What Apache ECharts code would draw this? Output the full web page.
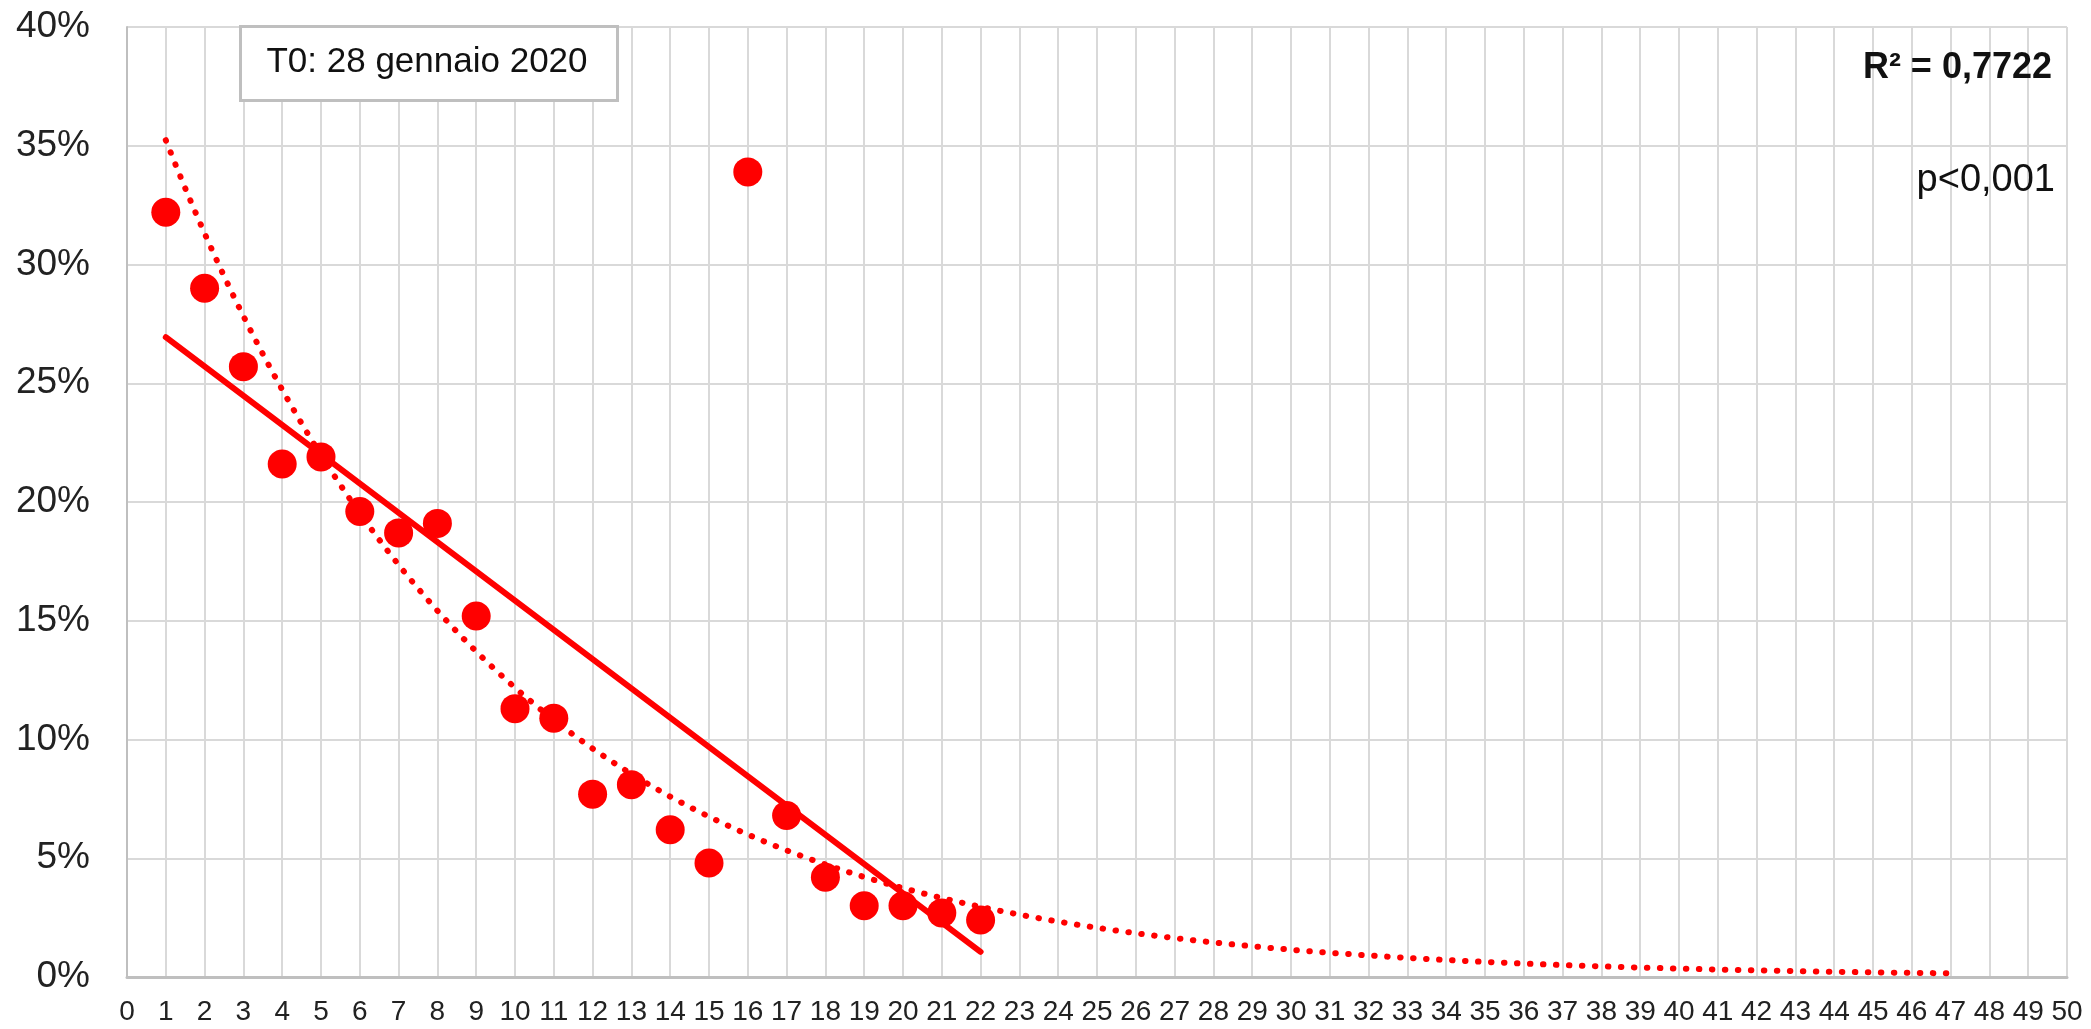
<!DOCTYPE html>
<html>
<head>
<meta charset="utf-8">
<script src="https://cdn.jsdelivr.net/npm/echarts@6/dist/echarts.min.js"></script>
<style>
html,body{margin:0;padding:0;background:#fff;}
#chart{width:2091px;height:1029px;}
</style>
</head>
<body>
<div id="chart"></div>
<script>
// Days since T0 (x) and observed share (%)
const days = [1,2,3,4,5,6,7,8,9,10,11,12,13,14,15,16,17,18,19,20,21,22];
const share = [32.2,29.0,25.7,21.6,21.9,19.6,18.7,19.1,15.2,11.3,10.9,7.7,8.1,6.2,4.8,33.9,6.8,4.2,3.0,3.0,2.7,2.4];
const forecastEnd = 47;          // exponential trend forecast extends to day 47
const annotationBox = "T0: 28 gennaio 2020";
const r2Label = "R\u00B2 = 0,7722";
const pLabel = "p<0,001";

// Least-squares regression (as the spreadsheet trendlines)
function linFit(xs, ys){
  const n = xs.length;
  const mx = xs.reduce((a,b)=>a+b,0)/n, my = ys.reduce((a,b)=>a+b,0)/n;
  let sxy=0, sxx=0;
  for(let i=0;i<n;i++){ sxy+=(xs[i]-mx)*(ys[i]-my); sxx+=(xs[i]-mx)*(xs[i]-mx); }
  const b = sxy/sxx; return {a: my - b*mx, b};
}
const lin = linFit(days, share);
const linTrend = [[days[0], lin.a + lin.b*days[0]], [days[days.length-1], lin.a + lin.b*days[days.length-1]]];
const ex = linFit(days, share.map(v=>Math.log(v)));
const expTrend = [];
for(let x=days[0]; x<=forecastEnd+1e-9; x+=0.25){ expTrend.push([x, Math.exp(ex.a + ex.b*x)]); }

const RED = '#ff0000';
const FONT = '"Liberation Sans", Arial, sans-serif';
const chart = echarts.init(document.getElementById('chart'));
chart.setOption({
  animation:false,
  backgroundColor:'#fff',
  grid:{left:127, right:24, top:27, bottom:52, containLabel:false},
  xAxis:{type:'value', min:0, max:50, interval:1,
    axisLine:{show:true, lineStyle:{color:'#bfbfbf', width:3}},
    axisTick:{show:false},
    axisLabel:{color:'#222', fontSize:28, fontFamily:FONT, margin:21},
    splitLine:{show:true, lineStyle:{color:'#d9d9d9', width:2}}},
  yAxis:{type:'value', min:0, max:40, interval:5,
    axisLine:{show:true, lineStyle:{color:'#bfbfbf', width:2}},
    axisTick:{show:false},
    axisLabel:{color:'#222', fontSize:37, fontFamily:FONT, margin:37, formatter:'{value}%'},
    splitLine:{show:true, lineStyle:{color:'#d9d9d9', width:2}}},
  series:[
    {type:'scatter', data: days.map((d,i)=>[d, share[i]]), symbol:'circle', symbolSize:29,
      itemStyle:{color:RED, opacity:1}, z:3},
    {type:'line', data: linTrend, showSymbol:false, symbol:'none',
      lineStyle:{color:RED, width:6, cap:'round'}, z:4},
    {type:'line', data: expTrend, showSymbol:false, symbol:'none', smooth:false,
      lineStyle:{color:RED, width:6, type:[0.5,12.5], cap:'round'}, z:4}
  ],
  graphic:[
    {type:'rect', left:239, top:25, shape:{width:377, height:74},
      style:{fill:'#fff', stroke:'#bfbfbf', lineWidth:3}, z:10},
    {type:'text', x:427, y:62, style:{text:annotationBox, font:'35px '+FONT, fill:'#111', textAlign:'center', textVerticalAlign:'middle'}, z:11},
    {type:'text', x:2052, y:68, style:{text:r2Label, font:'bold 36px '+FONT, fill:'#111', textAlign:'right', textVerticalAlign:'middle'}, z:11},
    {type:'text', x:2055, y:181, style:{text:pLabel, font:'38px '+FONT, fill:'#111', textAlign:'right', textVerticalAlign:'middle'}, z:11}
  ]
});
</script>
</body>
</html>
